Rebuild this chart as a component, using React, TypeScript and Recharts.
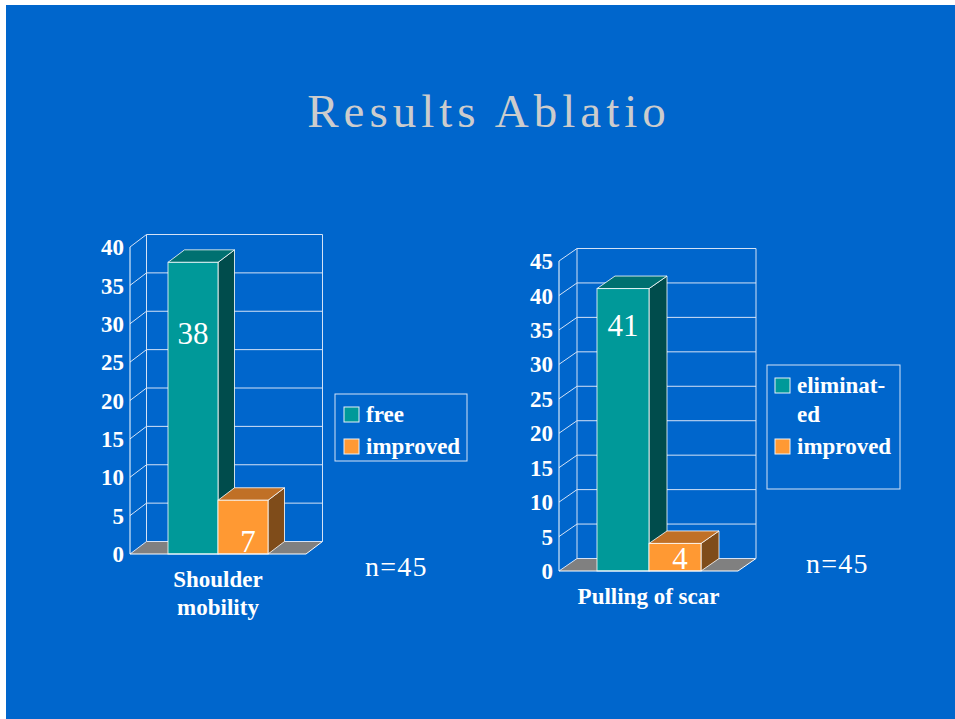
import React from "react";
import { BarChart, Bar, XAxis, YAxis, CartesianGrid, LabelList } from "recharts";

// ---- data ----
const leftCategories = ["Shoulder\nmobility"];
const leftFree = [38];
const leftImproved = [7];
const leftSeriesNames = ["free", "improved"];
const leftTicks = [0, 5, 10, 15, 20, 25, 30, 35, 40];

const rightCategories = ["Pulling of scar"];
const rightEliminated = [41];
const rightImproved = [4];
const rightSeriesNames = ["eliminat-\ned", "improved"];
const rightTicks = [0, 5, 10, 15, 20, 25, 30, 35, 40, 45];

const sampleNote = "n=45";
const titleText = "Results Ablatio";

// ---- styles ----
const SERIF = "'Liberation Serif', 'Times New Roman', serif";
const BLUE = "#0066CC";
const GRID = "#D4E2F6";
const TEAL = { front: "#009999", top: "#007070", side: "#004C4C" };
const ORANGE = { front: "#FF9933", top: "#C07026", side: "#7F4C1A" };
const EDGE = "rgba(255,255,255,0.8)";

const leftData = leftCategories.map((c, i) => ({ category: c, a: leftFree[i], b: leftImproved[i] }));
const rightData = rightCategories.map((c, i) => ({ category: c, a: rightEliminated[i], b: rightImproved[i] }));

function makeBarShape(dx: number, dy: number, colors: { front: string; top: string; side: string }) {
  return (props: any) => {
    const { x, y, width, height } = props;
    if (width == null || height == null) return null;
    const top = `${x},${y} ${x + dx},${y - dy} ${x + width + dx},${y - dy} ${x + width},${y}`;
    const side = `${x + width},${y} ${x + width + dx},${y - dy} ${x + width + dx},${y + height - dy} ${x + width},${y + height}`;
    return (
      <g>
        <polygon points={side} fill={colors.side} stroke={EDGE} strokeWidth={1} />
        <polygon points={top} fill={colors.top} stroke={EDGE} strokeWidth={1} />
        <rect x={x} y={y} width={width} height={height} fill={colors.front} stroke={EDGE} strokeWidth={1} />
      </g>
    );
  };
}

function makeGrid(dx: number, dy: number, yBottom: number, yTop: number) {
  return (props: any) => {
    const { x1, x2, y1 } = props;
    const isBottom = Math.abs(y1 - yBottom) < 0.6;
    return (
      <g key={props.key ?? `g-${y1}`}>
        {isBottom && (
          <g>
            <polygon
              points={`${x1},${y1} ${x1 + dx},${y1 - dy} ${x2 + dx},${y1 - dy} ${x2},${y1}`}
              fill="#808080"
            />
            <line x1={x1 + dx} y1={yTop - dy} x2={x1 + dx} y2={yBottom - dy} stroke={GRID} strokeWidth={1} />
            <line x1={x2 + dx} y1={yTop - dy} x2={x2 + dx} y2={yBottom - dy} stroke={GRID} strokeWidth={1} />
            <line x1={x2} y1={y1} x2={x2 + dx} y2={y1 - dy} stroke="#FFFFFF" strokeWidth={1} />
          </g>
        )}
        <line x1={x1} y1={y1} x2={x1 + dx} y2={y1 - dy} stroke={GRID} strokeWidth={1} />
        <line x1={x1 + dx} y1={y1 - dy} x2={x2 + dx} y2={y1 - dy} stroke={GRID} strokeWidth={1} />
      </g>
    );
  };
}

const CategoryTick = (props: any) => {
  const { x, y, payload } = props;
  const lines = String(payload.value).split("\n");
  return (
    <g>
      {lines.map((ln, i) => (
        <text
          key={i}
          x={x}
          y={y + 33 + i * 28}
          textAnchor="middle"
          fill="#FFFFFF"
          fontFamily={SERIF}
          fontWeight={700}
          fontSize={23}
        >
          {ln}
        </text>
      ))}
    </g>
  );
};

function makeLabel(mode: "top" | "bottom", offset: number, dxShift: number) {
  return (p: any) => {
    const vb = p.viewBox || {};
    const x = p.x ?? vb.x;
    const y = p.y ?? vb.y;
    const width = p.width ?? vb.width;
    const height = p.height ?? vb.height;
    const cx = x + width / 2 + dxShift;
    const ty = mode === "top" ? y + offset : y + height - offset;
    return (
      <text x={cx} y={ty} textAnchor="middle" fill="#FFFFFF" fontFamily={SERIF} fontSize={31}>
        {p.value}
      </text>
    );
  };
}

const CHART_H = 719;
const XAXIS_H = 60;

type ChartCfg = {
  data: any[];
  ticks: number[];
  max: number;
  left: number;
  width: number;
  margin: { top: number; right: number; bottom: number; left: number };
  depthX: number;
  depthY: number;
  barSize: number;
  topLabelOffset: number;
};

function Chart3D(cfg: ChartCfg) {
  const yBottom = CHART_H - cfg.margin.bottom - XAXIS_H;
  const yTop = cfg.margin.top;
  return (
    <div style={{ position: "absolute", left: cfg.left, top: 0, width: cfg.width, height: CHART_H }}>
      <BarChart
        width={cfg.width}
        height={CHART_H}
        data={cfg.data}
        margin={cfg.margin}
        barGap={0}
        barSize={cfg.barSize}
      >
        <CartesianGrid vertical={false} horizontal={makeGrid(cfg.depthX, cfg.depthY, yBottom, yTop)} />
        <XAxis
          dataKey="category"
          height={XAXIS_H}
          axisLine={{ stroke: "#FFFFFF", strokeWidth: 1 }}
          tickLine={false}
          tickSize={0}
          tickMargin={0}
          tick={<CategoryTick />}
          interval={0}
        />
        <YAxis
          width={70}
          domain={[0, cfg.max]}
          ticks={cfg.ticks}
          interval={0}
          axisLine={{ stroke: "#FFFFFF", strokeWidth: 1 }}
          tickLine={false}
          tickSize={0}
          tickMargin={6}
          tick={{ fill: "#FFFFFF", fontFamily: SERIF, fontWeight: 700, fontSize: 23 }}
        />
        <Bar dataKey="a" isAnimationActive={false} shape={makeBarShape(cfg.depthX, cfg.depthY, TEAL)}>
          <LabelList dataKey="a" content={makeLabel("top", cfg.topLabelOffset, 0)} />
        </Bar>
        <Bar dataKey="b" isAnimationActive={false} shape={makeBarShape(cfg.depthX, cfg.depthY, ORANGE)}>
          <LabelList dataKey="b" content={makeLabel("bottom", 2, 5)} />
        </Bar>
      </BarChart>
    </div>
  );
}

function LegendBox(props: {
  x: number;
  y: number;
  w: number;
  h: number;
  names: string[];
  rows: number[];
  textX: number;
  lineH: number;
}) {
  const colors = [TEAL.front, ORANGE.front];
  return (
    <g>
      <rect x={props.x} y={props.y} width={props.w} height={props.h} fill="none" stroke={GRID} strokeWidth={1} />
      {props.names.map((name, i) => {
        const base = props.rows[i];
        const lines = name.split("\n");
        return (
          <g key={i}>
            <rect x={props.textX - 22} y={base - 15} width={15} height={15} fill={colors[i]} stroke="#E8F0F8" strokeWidth={1} />
            {lines.map((ln, j) => (
              <text
                key={j}
                x={props.textX}
                y={base + j * props.lineH}
                fill="#FFFFFF"
                fontFamily={SERIF}
                fontWeight={700}
                fontSize={23}
              >
                {ln}
              </text>
            ))}
          </g>
        );
      })}
    </g>
  );
}

export default function App() {
  return (
    <div style={{ position: "absolute", left: 0, top: 0, width: 955, height: 719, background: "#FFFFFF", overflow: "hidden" }}>
      <div style={{ position: "absolute", left: 6, top: 5, width: 949, height: 714, background: BLUE }} />
      <Chart3D
        data={leftData}
        ticks={leftTicks}
        max={40}
        left={0}
        width={480}
        margin={{ top: 247, right: 174, bottom: 105, left: 60 }}
        depthX={16.5}
        depthY={12.5}
        barSize={50}
        topLabelOffset={82}
      />
      <Chart3D
        data={rightData}
        ticks={rightTicks}
        max={45}
        left={480}
        width={475}
        margin={{ top: 261, right: 217, bottom: 88, left: 9 }}
        depthX={18}
        depthY={12.5}
        barSize={52}
        topLabelOffset={47}
      />
      <svg width={955} height={719} style={{ position: "absolute", left: 0, top: 0, pointerEvents: "none" }}>
        <text x={489} y={127} textAnchor="middle" fill="#CCCCCC" fontFamily={SERIF} fontSize={47} letterSpacing={5}>
          {titleText}
        </text>
        <text x={365} y={576} fill="#FFFFFF" fontFamily={SERIF} fontSize={28} letterSpacing={1.2}>
          {sampleNote}
        </text>
        <text x={806} y={573} fill="#FFFFFF" fontFamily={SERIF} fontSize={28} letterSpacing={1.2}>
          {sampleNote}
        </text>
        <LegendBox x={335} y={394} w={132} h={67} names={leftSeriesNames} rows={[422, 454]} textX={366} lineH={29} />
        <LegendBox x={767} y={365} w={133} h={124} names={rightSeriesNames} rows={[393, 454]} textX={797} lineH={29} />
      </svg>
    </div>
  );
}
